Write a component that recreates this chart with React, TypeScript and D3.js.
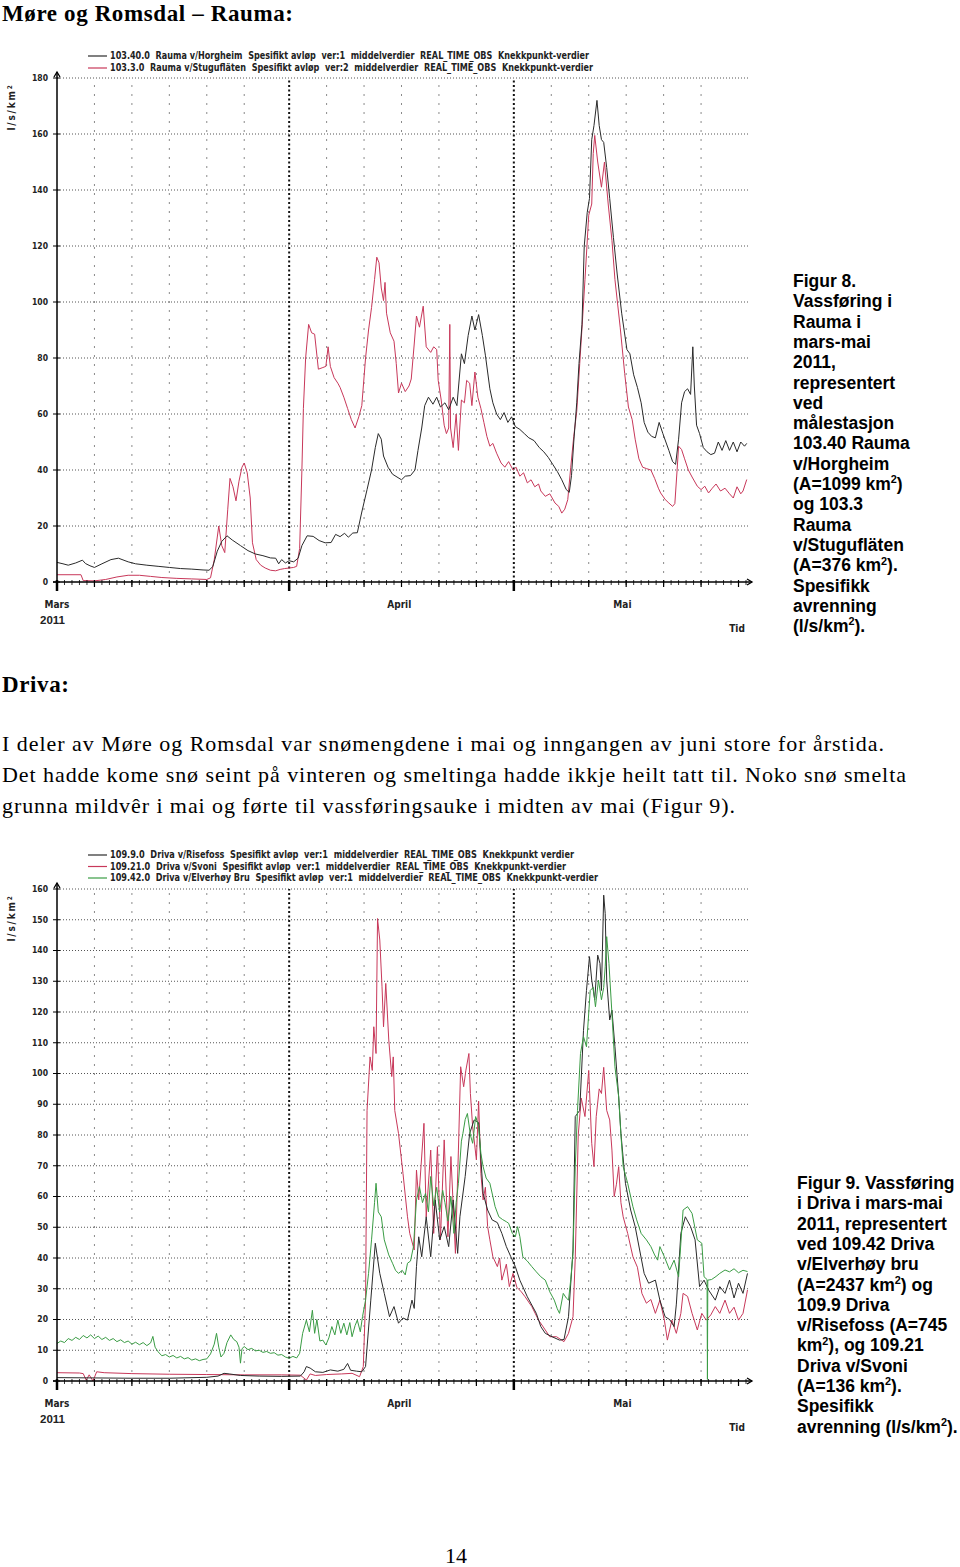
import React from "react";
import * as d3 from "d3";

type Pt = [number, number];

// ---------- axis / tick data ----------
const MONTH_LABELS = ["Mars", "April", "Mai"];
const MONTH_START_DAYS = [0, 31, 61];
const MONTH_LABEL_DAYS = [0, 45.7, 75.5];
const END_DAY = 92;
const FIVE_DAY_LINES = [5, 10, 15, 20, 25, 36, 41, 46, 51, 56, 66, 71, 76, 81, 86];
const MEDIUM_TICK_DAYS = [5, 10, 15, 20, 25, 36, 41, 46, 51, 56, 66, 71, 76, 81, 86, 91];
const YEAR_LABEL = "2011";
const TIME_LABEL = "Tid";
const Y_TITLE = "l/s/km";
const Y1_TICKS = [0, 20, 40, 60, 80, 100, 120, 140, 160, 180];
const Y2_TICKS = [0, 10, 20, 30, 40, 50, 60, 70, 80, 90, 100, 110, 120, 130, 140, 150, 160];

// ---------- legends ----------
const RAUMA_LEGEND = [
  "103.40.0  Rauma v/Horgheim  Spesifikt avløp  ver:1  middelverdier  REAL_TIME_OBS  Knekkpunkt-verdier",
  "103.3.0  Rauma v/Stugufläten  Spesifikt avløp  ver:2  middelverdier  REAL_TIME_OBS  Knekkpunkt-verdier",
];
const DRIVA_LEGEND = [
  "109.9.0  Driva v/Risefoss  Spesifikt avløp  ver:1  middelverdier  REAL_TIME_OBS  Knekkpunkt verdier",
  "109.21.0  Driva v/Svoni  Spesifikt avløp  ver:1  middelverdier  REAL_TIME_OBS  Knekkpunkt-verdier",
  "109.42.0  Driva v/Elverhøy Bru  Spesifikt avløp  ver:1  middelverdier  REAL_TIME_OBS  Knekkpunkt-verdier",
];

// ---------- series: [day since 1 March, l/s/km2] ----------
const RAUMA_HORGHEIM: Pt[] = [
  [0,7],[0.8,6.5],[1.5,6],[2.5,6.8],[3.4,7.8],[3.8,6.6],[4.4,5.8],[5,5.2],[6,6.5],[7.2,8],[8.2,8.5],[9.5,7.2],[10.5,6.5],[12,6],[13.5,5.6],[15,5.2],[16.5,4.8],[18,4.6],[19.5,4.3],[20.3,4.2],[20.8,5.5],[21.4,11],[22,14.5],[22.7,16.5],[23.4,15],[24.5,13],[25.5,11.2],[26.5,10],[27.5,9.4],[28.5,8.6],[29.2,8.5],[29.6,6.5],[30,8],[30.5,6.8],[31,7.6],[31.6,7.2],[32.2,8.5],[32.7,13],[33.4,16.5],[34.2,16.3],[35,14.8],[35.8,14],[36.6,14.1],[37.2,17],[37.8,16.2],[38.4,17.4],[38.9,16],[39.5,17.5],[40.1,17.6],[40.7,25],[41.4,33],[42,40],[42.5,48],[42.9,53],[43.3,51],[43.6,45],[44.2,41],[44.8,38.5],[45.4,37.5],[46,36.5],[46.5,37.8],[47.2,38],[47.8,40],[48.2,47],[48.7,55],[49.1,63],[49.6,66],[50.2,63.5],[50.7,66],[51.2,62.5],[51.8,64],[52.3,61.5],[52.9,66],[53.4,63],[54,81.5],[54.4,78],[54.9,88],[55.4,95],[55.8,90],[56.3,95.5],[56.8,88],[57.2,81],[57.8,69],[58.2,64],[58.7,60],[59.2,58],[59.7,60.5],[60.2,57],[60.7,59],[61.2,55.5],[61.8,54.5],[62.4,53],[63,51.5],[63.7,50.5],[64.4,48],[65,46.5],[65.6,44.5],[66.2,42],[66.8,39.5],[67.4,36.5],[68,33],[68.4,32],[68.7,38],[69,50],[69.4,64],[69.7,78],[70.1,92],[70.4,120],[70.8,132],[71.1,137],[71.4,158],[71.7,163],[72.1,172],[72.4,163],[72.7,158],[73,157],[73.4,148],[73.8,137],[74.3,123],[74.8,110],[75.4,96],[76.1,83],[76.5,81.5],[77,74],[77.5,69.5],[78,64],[78.4,57],[78.9,53.5],[79.4,52],[79.9,51.5],[80.4,57],[80.9,53],[81.3,50],[81.7,47],[82.2,43],[82.6,42],[83,51],[83.4,64],[83.8,68],[84.2,69],[84.6,67],[84.9,84],[85.1,70],[85.4,56],[85.8,53],[86.3,48],[86.8,46.5],[87.3,45.5],[87.8,46],[88.3,50],[88.8,47],[89.3,50.5],[89.8,47],[90.3,50],[90.8,46.5],[91.3,50],[91.8,48.5],[92.1,49.5],
];

const RAUMA_STUGUFLATEN: Pt[] = [
  [0,2.6],[3.2,2.6],[3.5,0.5],[5,0.4],[6.5,0.9],[8,1.8],[9.5,2.4],[11,2.4],[12.5,2],[14,1.6],[16,1.3],[18,1.1],[20,0.9],[20.5,1.5],[21,8],[21.6,20],[22,13],[22.4,10.5],[22.8,26],[23.1,37],[23.5,34],[23.9,29],[24.3,36],[24.7,41],[25,42.5],[25.4,39],[25.8,30],[26.1,14],[26.6,8],[27.2,6],[27.8,5],[28.5,4.2],[29.2,4],[29.8,4.5],[30.4,4.8],[31,5],[31.6,5.2],[32,5.6],[32.4,12],[32.7,40],[32.9,62],[33.2,80],[33.6,92],[34,89],[34.4,88.5],[34.9,76],[35.4,76.5],[35.9,77],[36.2,84],[36.5,77],[37,73],[37.5,71],[37.8,69.5],[38.3,66],[38.8,62],[39.3,58],[39.8,55],[40.3,59],[40.7,63],[41.2,80],[41.6,90],[42,98],[42.4,108],[42.7,116],[43,114],[43.3,105],[43.6,100.5],[43.8,107],[44,96],[44.5,89],[45,86],[45.3,78],[45.6,67.5],[46,71],[46.5,68],[47,70],[47.3,72.5],[47.7,85],[48,95],[48.4,91],[48.9,98.5],[49.3,84],[49.9,82],[50.3,84],[50.7,83],[50.9,72],[51.3,65],[51.7,56],[52,53],[52.3,55],[52.45,92],[52.55,55],[52.9,48],[53.3,60],[53.6,47],[54,65],[54.4,64],[54.7,72],[55.1,71],[55.4,63],[55.8,75],[56.2,66],[56.6,62],[57,57],[57.4,52],[57.8,48.5],[58.2,49.5],[58.7,46],[59.3,42.5],[59.8,41],[60.3,43],[60.9,40],[61.3,41],[61.8,37.8],[62.3,39],[62.8,35.4],[63.3,36.5],[63.8,34],[64.3,35],[64.6,32.5],[65.2,30.6],[65.8,31.5],[66.5,28.2],[67,27],[67.4,24.6],[67.8,26],[68.2,29.4],[68.6,41],[69,52],[69.4,61],[69.8,78],[70.2,95],[70.5,108],[71,131],[71.4,135],[71.6,153],[71.8,159.5],[72.2,150],[72.7,141],[73.1,150],[73.6,135],[74.1,122],[74.5,108],[75.2,91],[75.8,74.5],[76.3,62.5],[76.8,58],[77.2,51],[77.7,44],[78.2,41],[78.7,40.5],[79.3,40],[79.8,37],[80.3,33.5],[80.6,31.8],[81.2,29.5],[81.7,28.2],[82.2,27],[82.5,28],[82.8,40],[83,48.5],[83.4,47.3],[83.8,44],[84.3,40],[84.8,37.5],[85.5,34.2],[86,33],[86.5,34.2],[87,31.8],[87.5,33.5],[88,35],[88.6,32.5],[89.2,33.5],[89.8,31.5],[90.3,30],[90.8,34],[91.3,31.5],[91.6,32.5],[92.1,36.6],
];

const DRIVA_RISEFOSS: Pt[] = [
  [0,1.1],[5,1.0],[10,0.9],[15,0.9],[20,1.2],[21.5,1.6],[22.3,2.5],[23,2.3],[24.5,1.8],[27,1.6],[30,1.5],[32.5,1.6],[33,3],[33.3,4.7],[33.8,4.2],[34.5,3],[35.5,2.8],[36.5,3.6],[37.5,3.2],[38.3,3.8],[38.8,5.7],[39.2,3.5],[40,3.2],[40.7,3],[41.2,4.7],[41.9,26.3],[42.5,44.8],[43.1,35],[43.7,28.5],[44.4,20.9],[45,24.2],[45.6,18.8],[46.2,20.5],[46.8,19.8],[47.4,26.3],[47.7,23.6],[48,37.2],[48.3,46.9],[48.7,40.4],[49.3,53.4],[49.9,40.4],[50.5,58.9],[51.1,45.9],[51.7,50.2],[52.3,43.7],[52.9,58.9],[53.5,41.5],[53.8,53.4],[54.5,66.5],[55.1,80.5],[55.7,84.9],[56.3,84],[56.9,61],[57.5,55.6],[58.1,52.4],[58.8,51.5],[59.4,48],[60,43.7],[60.6,40.4],[61.2,37.2],[61.8,32.8],[62.8,27.4],[64,22],[64.6,17.7],[65.2,15.5],[66.1,14.4],[67.1,13.3],[67.7,13.5],[68.3,20.9],[68.9,42.6],[69.2,86],[69.8,88],[70.3,114],[70.7,127],[71.1,138],[71.4,130.4],[71.8,124],[72.2,138.5],[72.5,135.8],[72.7,127],[73,158],[73.2,152],[73.4,130.4],[73.8,117.4],[74.1,120.6],[74.5,108.7],[75,92.4],[75.3,80.5],[75.9,64.3],[76.6,55.6],[77.2,50.2],[77.8,42.6],[78.4,35],[79,31.8],[79.9,32.8],[80.5,26.3],[81.2,20.9],[81.8,20],[82.4,17.7],[82.7,25],[83.3,48],[83.9,53.4],[84.6,50.2],[85.2,45.9],[85.8,30.7],[86.4,32.8],[87,29.6],[87.9,26.3],[88.5,30.7],[89.2,28.5],[89.8,32.8],[90.4,27],[91,31.8],[91.6,28.5],[92.2,35],
];

const DRIVA_SVONI: Pt[] = [
  [0,2.7],[3,2.6],[3.5,2.4],[3.9,0.3],[4.3,2],[4.8,0],[5.3,3],[6.3,2.7],[10,2.4],[15,2.2],[20,2.1],[25,2],[30,2],[32.5,1.9],[33.3,0.3],[33.8,2.3],[34.5,1.8],[36,2.1],[38,2.3],[39.4,2.5],[40.4,1.4],[40.9,4.7],[41.2,26.3],[41.4,88],[41.8,105.4],[42.1,101],[42.3,115.2],[42.6,106.5],[42.8,150.4],[43.1,143.4],[43.4,128.2],[43.6,115.2],[43.9,129.3],[44.3,110.9],[44.7,99],[44.9,105.4],[45.1,88],[45.6,80.5],[46.2,67.5],[46.8,53.4],[47.1,48],[47.7,42.6],[48,68.6],[48.3,58.9],[49,83.8],[49.3,53.4],[49.9,75.1],[50.3,48],[50.8,76.2],[51.2,45.9],[51.7,78.4],[52.2,46.9],[52.6,73],[53.2,41.5],[53.6,75.1],[53.9,102.2],[54.3,95.7],[54.6,101.1],[55,106.5],[55.2,93.5],[55.5,82.7],[56,71.9],[56.3,91],[56.6,67.5],[56.9,58.9],[57.2,63],[57.5,50.2],[57.8,45.9],[58.2,40.4],[58.8,37.2],[59.1,40],[59.4,32.8],[60,38],[60.4,30.7],[60.9,35],[61.4,30.5],[62,29],[62.5,27.4],[63.4,24.2],[64.3,19.8],[65.2,16.6],[65.8,14.4],[66.7,14.4],[67.7,12.8],[68.3,15.5],[68.9,20.9],[69.2,40],[69.6,80],[70,92],[70.5,86],[71,101],[71.4,77.3],[71.7,69.7],[72,86],[72.4,95],[72.7,93.5],[73,102],[73.4,88],[73.8,84.9],[74.1,75.1],[74.4,60],[74.7,64],[75,69.7],[75.3,58],[75.6,53.4],[76.2,48],[76.9,40.4],[77.5,37],[78.1,28.5],[78.7,25.3],[79.3,26.5],[79.9,22],[80.5,26.3],[81.1,19.8],[81.5,13.3],[82.1,19.8],[82.7,15.5],[83.3,22],[83.6,28.5],[84.2,27.5],[84.8,22],[85.5,16.6],[86.1,22],[86.7,19.8],[87.3,21.5],[87.9,24.2],[88.5,22],[89.2,26.3],[89.8,22],[90.4,24],[91,19.8],[91.6,22],[92.2,29.6],
];

const DRIVA_ELVERHOY: Pt[] = [
  [0,12.2],[0.5,13],[1,12.5],[1.5,13.8],[2,13.2],[2.5,14.2],[3,13.5],[3.5,14.8],[4,14],[4.5,15],[5,13.8],[5.5,14.6],[6,13.5],[6.5,14.2],[7,13.2],[7.5,13.8],[8,12.8],[8.5,13.4],[9,12.5],[9.5,13],[10,12],[10.5,12.6],[11,11.8],[11.5,12.5],[12,11.5],[12.5,12.4],[12.8,14.5],[13.1,11],[13.5,9.5],[14,8.2],[14.5,8.6],[15,7.8],[15.5,8.3],[16,7.5],[16.5,8],[17,7.2],[17.5,7.6],[18,6.8],[18.5,7.2],[19,6.6],[19.5,7],[20,7.2],[20.5,8.8],[21,12],[21.3,15.5],[21.6,11],[21.9,7.8],[22.3,9],[22.7,12.5],[23.2,15],[23.6,13.5],[24,12.8],[24.3,11],[24.5,5.8],[24.7,10.5],[25,11.2],[25.5,10.2],[26,10.6],[26.5,9.8],[27,10],[27.5,9.3],[28,9.6],[28.5,9],[29,9.2],[29.5,8.4],[30,8.6],[30.5,7.8],[31,7.4],[31.5,8],[32,7.5],[32.4,9],[32.8,15.5],[33.3,19.8],[33.7,16],[34.1,23],[34.4,15.5],[34.7,20],[35.1,13],[35.5,13.3],[35.9,11.7],[36.3,14],[36.7,17.7],[37.1,15],[37.5,19.8],[37.9,15.5],[38.3,18.8],[38.7,15],[39.1,19],[39.4,14.4],[39.8,18],[40.1,19.8],[40.5,16],[40.8,21],[41.2,26.3],[41.6,35],[42,45.9],[42.4,58],[42.6,64.3],[42.9,55],[43.3,53.4],[43.7,45.9],[44.3,41],[44.8,38.3],[45.2,36],[45.6,35],[46.1,36],[46.5,34.5],[46.8,38.3],[47.2,39],[47.6,43.7],[48,58.9],[48.4,63.2],[48.8,58],[49.2,61],[49.6,55],[49.9,66.5],[50.3,57],[50.7,63],[51.1,55],[51.5,62],[51.8,58],[52.2,52],[52.6,60],[53,48],[53.3,58],[53.6,64.3],[54,78],[54.2,80.5],[54.5,85],[54.8,87],[55.2,80],[55.5,77.3],[55.9,86],[56.3,82.7],[56.6,74],[56.9,69.7],[57.3,66],[57.8,64.3],[58.2,60],[58.5,56.7],[59,53.4],[59.5,52.5],[60,51.8],[60.3,51.3],[60.8,48],[61.2,46.9],[61.5,50.2],[61.8,47],[62.2,40.4],[62.8,39],[63.4,37.2],[64,35.5],[64.6,33.9],[65.2,32.8],[65.8,29],[66.4,26.3],[66.8,23.5],[67.1,22],[67.6,28.5],[68,27],[68.3,26.3],[68.6,33],[68.9,41.5],[69.2,69.7],[69.5,88],[69.9,106.5],[70.3,112],[70.7,108.7],[71.2,127],[71.6,128],[71.9,121.7],[72.3,130.4],[72.7,124],[73,128],[73.2,134.7],[73.4,144.5],[73.7,135.8],[74.1,119.5],[74.5,102.2],[75,92.4],[75.3,80],[75.6,69.7],[76.2,64.3],[76.9,56.7],[77.4,52.4],[78,48],[78.7,45.9],[79.3,43.7],[79.8,41],[80.2,39.3],[80.5,43.7],[81.1,40.4],[81.8,36.1],[82.4,39.3],[83,33.9],[83.3,44.8],[83.6,55.6],[84.2,56.7],[84.8,54.5],[85.5,45.9],[86.1,44.8],[86.4,33.9],[86.8,33],[86.85,0.5],[86.9,32.8],[87.4,33],[88,34],[88.5,35],[89.2,36.1],[89.8,35.5],[90.4,36.5],[91,35.2],[91.6,36],[92.2,35.6],
];

// ---------- page text ----------
const HEADING_1 = "Møre og Romsdal – Rauma:";
const HEADING_2 = "Driva:";
const PARAGRAPH = [
  "I deler av Møre og Romsdal var snømengdene i mai og inngangen av juni store for årstida.",
  "Det hadde kome snø seint på vinteren og smeltinga hadde ikkje heilt tatt til. Noko snø smelta",
  "grunna mildvêr i mai og førte til vassføringsauke i midten av mai (Figur 9).",
];
const PARAGRAPH_WIDTHS = [882, 904, 733];
const CAPTION_8 = [
  "Figur 8.", "Vassføring i", "Rauma i", "mars-mai", "2011,", "representert", "ved",
  "målestasjon", "103.40 Rauma", "v/Horgheim", "(A=1099 km^2)", "og 103.3", "Rauma",
  "v/Stugufläten", "(A=376 km^2).", "Spesifikk", "avrenning", "(l/s/km^2).",
];
const CAPTION_9 = [
  "Figur 9. Vassføring", "i Driva i mars-mai", "2011, representert", "ved 109.42 Driva",
  "v/Elverhøy bru", "(A=2437 km^2) og", "109.9 Driva", "v/Risefoss (A=745",
  "km^2), og 109.21", "Driva v/Svoni", "(A=136 km^2).", "Spesifikk", "avrenning (l/s/km^2).",
];
const PAGE_NUMBER = "14";

const BLACK = "#2a2a2a";
const RED = "#c8385a";
const GREEN = "#3a9c44";
const NARROW = "'Liberation Sans Narrow', 'DejaVu Sans Condensed', 'Arial Narrow', sans-serif";
const SANS = "'Liberation Sans', Arial, sans-serif";
const SERIF = "'Liberation Serif', 'Times New Roman', serif";

const X_LEFT = 57;
const X_RIGHT = 746;

function SupText(props: { x: number; y: number; text: string; size: number; weight?: any; family: string }) {
  const { x, y, text, size, weight, family } = props;
  const parts = text.split("^2");
  const shift = size * 0.38;
  const out: any[] = [];
  parts.forEach((p, i) => {
    out.push(
      <tspan key={"p" + i} dy={i > 0 ? shift : 0}>{p}</tspan>
    );
    if (i < parts.length - 1) {
      out.push(
        <tspan key={"s" + i} dy={-shift} fontSize={size * 0.62}>2</tspan>
      );
    }
  });
  return (
    <text x={x} y={y} fontSize={size} fontWeight={weight} fontFamily={family}>
      {out}
    </text>
  );
}

type Series = { data: Pt[]; color: string };

function Chart(props: {
  y0: number;
  yTopPx: number;
  yMax: number;
  yTicks: number[];
  series: Series[];
  legend: string[];
  legendColors: string[];
  legendY: number;
  legendStep: number;
  legendWidths: number[];
}) {
  const { y0, yTopPx, yMax, yTicks, series, legend, legendColors, legendY, legendStep, legendWidths } = props;
  const x = d3.scaleLinear().domain([0, END_DAY]).range([X_LEFT, X_RIGHT]);
  const y = d3.scaleLinear().domain([0, yMax]).range([y0, yTopPx]);
  const line = d3
    .line<Pt>()
    .x((d) => x(d[0]))
    .y((d) => y(d[1]));
  const days = d3.range(0, END_DAY + 1);
  const axisEnd = 752;
  const axisTop = yTopPx - 6;

  return (
    <g>
      {/* legend */}
      {legend.map((t, i) => (
        <g key={"lg" + i}>
          <line x1={88} x2={107} y1={legendY + i * legendStep} y2={legendY + i * legendStep} stroke={legendColors[i]} strokeWidth={1.2} />
          <text
            x={110}
            y={legendY + i * legendStep + 3.4}
            fontSize={9.8}
            fontFamily={NARROW}
            fontWeight="bold"
            fill="#222"
            textLength={legendWidths[i]}
            lengthAdjust="spacingAndGlyphs"
            style={{ whiteSpace: "pre" }}
          >
            {t}
          </text>
        </g>
      ))}

      {/* horizontal grid */}
      {yTicks.filter((v) => v > 0).map((v) => (
        <line key={"hg" + v} x1={X_LEFT} x2={748} y1={y(v)} y2={y(v)} stroke="#555" strokeWidth={1} strokeDasharray="1 2" />
      ))}
      {/* 5-day verticals */}
      {FIVE_DAY_LINES.map((d) => (
        <line key={"vg" + d} x1={x(d)} x2={x(d)} y1={y0} y2={yTopPx} stroke="#8a8a8a" strokeWidth={1} strokeDasharray="2 7" />
      ))}
      {/* month verticals */}
      {MONTH_START_DAYS.slice(1).map((d) => (
        <line key={"mg" + d} x1={x(d)} x2={x(d)} y1={y0} y2={yTopPx} stroke="#111" strokeWidth={2} strokeDasharray="2 2.5" />
      ))}

      {/* series */}
      {series.map((s, i) => (
        <path key={"s" + i} d={line(s.data) || ""} fill="none" stroke={s.color} strokeWidth={1} strokeLinejoin="round" />
      ))}

      {/* y axis */}
      <line x1={X_LEFT} x2={X_LEFT} y1={y0 + 3} y2={axisTop} stroke="#000" strokeWidth={1.5} />
      <path d={`M${X_LEFT - 3},${axisTop + 5} L${X_LEFT},${axisTop} L${X_LEFT + 3},${axisTop + 5}`} fill="none" stroke="#000" strokeWidth={1.3} />
      {yTicks.map((v) => (
        <g key={"yt" + v}>
          <line x1={X_LEFT - 4} x2={X_LEFT + 3} y1={y(v)} y2={y(v)} stroke="#000" strokeWidth={1} />
          <text x={48} y={y(v)} dy="0.35em" textAnchor="end" fontSize={8.5} fontFamily={NARROW} fontWeight="bold" fill="#222">
            {v}
          </text>
        </g>
      ))}
      <text
        transform={`translate(15,${yTopPx + 29}) rotate(-90)`}
        textAnchor="middle"
        fontSize={10}
        fontFamily={NARROW}
        fontWeight="bold"
        letterSpacing={1.8}
        fill="#222"
      >
        {Y_TITLE}
        <tspan dy={-3.5} fontSize={6.5}>2</tspan>
      </text>

      {/* x axis */}
      <line x1={X_LEFT - 4} x2={axisEnd} y1={y0} y2={y0} stroke="#000" strokeWidth={1.5} />
      <path d={`M${axisEnd - 5},${y0 - 3} L${axisEnd},${y0} L${axisEnd - 5},${y0 + 3}`} fill="none" stroke="#000" strokeWidth={1.3} />
      {days.map((d) => (
        <line key={"dt" + d} x1={x(d)} x2={x(d)} y1={y0 - 2} y2={y0 + 3} stroke="#000" strokeWidth={0.8} />
      ))}
      {MEDIUM_TICK_DAYS.map((d) => (
        <line key={"md" + d} x1={x(d)} x2={x(d)} y1={y0 - 2} y2={y0 + 5} stroke="#000" strokeWidth={1.2} />
      ))}
      {MONTH_START_DAYS.map((d) => (
        <line key={"mt" + d} x1={x(d)} x2={x(d)} y1={y0 - 2} y2={y0 + 9} stroke="#000" strokeWidth={2.5} />
      ))}
      {MONTH_LABELS.map((m, i) => (
        <text key={m} x={x(MONTH_LABEL_DAYS[i])} y={y0 + 26} textAnchor="middle" fontSize={10} fontFamily={NARROW} fontWeight="bold" fill="#222">
          {m}
        </text>
      ))}
      <text x={40} y={y0 + 42} fontSize={11.5} fontFamily={SANS} fontWeight="bold" fill="#222">
        {YEAR_LABEL}
      </text>
      <text x={737} y={y0 + 49.5} textAnchor="middle" fontSize={10} fontFamily={NARROW} fontWeight="bold" fill="#222">
        {TIME_LABEL}
      </text>
    </g>
  );
}

export default function App() {
  return (
    <svg
      width={960}
      height={1567}
      viewBox="0 0 960 1567"
      style={{ position: "absolute", left: 0, top: 0, background: "#fff" }}
    >
      <rect x={0} y={0} width={960} height={1567} fill="#fff" />
      <text x={2} y={20.5} fontSize={23} fontWeight="bold" fontFamily={SERIF} textLength={291} lengthAdjust="spacing">
        {HEADING_1}
      </text>

      <Chart
        y0={582}
        yTopPx={78}
        yMax={180}
        yTicks={Y1_TICKS}
        series={[
          { data: RAUMA_STUGUFLATEN, color: RED },
          { data: RAUMA_HORGHEIM, color: BLACK },
        ]}
        legend={RAUMA_LEGEND}
        legendColors={[BLACK, RED]}
        legendY={56}
        legendStep={12}
        legendWidths={[479, 483]}
      />

      {CAPTION_8.map((t, i) => (
        <SupText key={"c8" + i} x={793} y={287 + i * 20.3} text={t} size={17.5} weight="bold" family={SANS} />
      ))}

      <text x={2} y={692} fontSize={23} fontWeight="bold" fontFamily={SERIF} textLength={67} lengthAdjust="spacing">
        {HEADING_2}
      </text>
      {PARAGRAPH.map((t, i) => (
        <text key={"p" + i} x={2} y={751 + i * 31} fontSize={22} fontFamily={SERIF} textLength={PARAGRAPH_WIDTHS[i]} lengthAdjust="spacing">
          {t}
        </text>
      ))}

      <Chart
        y0={1381}
        yTopPx={889}
        yMax={160}
        yTicks={Y2_TICKS}
        series={[
          { data: DRIVA_SVONI, color: RED },
          { data: DRIVA_RISEFOSS, color: BLACK },
          { data: DRIVA_ELVERHOY, color: GREEN },
        ]}
        legend={DRIVA_LEGEND}
        legendColors={[BLACK, RED, GREEN]}
        legendY={855}
        legendStep={11.5}
        legendWidths={[464, 456, 488]}
      />

      {CAPTION_9.map((t, i) => (
        <SupText key={"c9" + i} x={797} y={1189 + i * 20.3} text={t} size={17.5} weight="bold" family={SANS} />
      ))}

      <text x={456} y={1563} textAnchor="middle" fontSize={22} fontFamily={SERIF}>
        {PAGE_NUMBER}
      </text>
    </svg>
  );
}
